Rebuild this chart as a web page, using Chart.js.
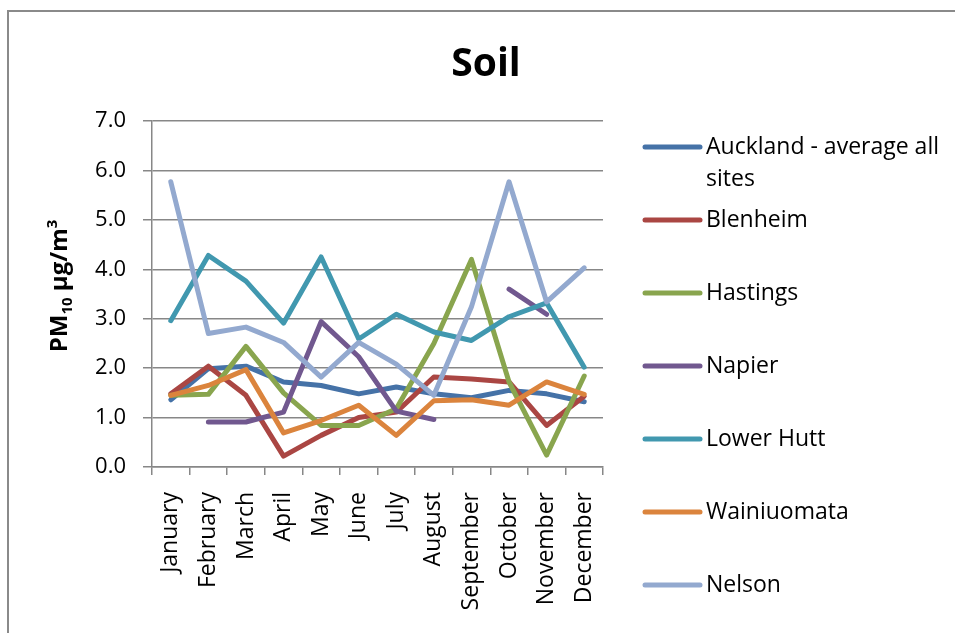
<!DOCTYPE html>
<html>
<head>
<meta charset="utf-8">
<title>Soil</title>
<script src="https://cdn.jsdelivr.net/npm/chart.js@4.4.1/dist/chart.umd.min.js"></script>
<style>
  html, body { margin: 0; padding: 0; background: #ffffff; }
  #wrap { width: 955px; height: 633px; position: relative; }
</style>
</head>
<body>
<div id="wrap"><canvas id="chart" width="955" height="633"></canvas></div>
<script>
// Monthly soil contribution to PM10 (µg/m³) by site
const months = ['January', 'February', 'March', 'April', 'May', 'June',
                'July', 'August', 'September', 'October', 'November', 'December'];

const auckland    = [1.36, 1.99, 2.04, 1.72, 1.65, 1.48, 1.62, 1.48, 1.40, 1.55, 1.48, 1.32];
const blenheim    = [1.48, 2.04, 1.45, 0.22, 0.64, 1.00, 1.11, 1.82, 1.78, 1.72, 0.84, 1.43];
const hastings    = [1.45, 1.47, 2.44, 1.50, 0.84, 0.84, 1.18, 2.50, 4.20, 1.72, 0.24, 1.84];
const napier      = [null, 0.91, 0.91, 1.11, 2.94, 2.23, 1.13, 0.96, null, 3.60, 3.09, null];
const lowerHutt   = [2.96, 4.28, 3.76, 2.91, 4.25, 2.59, 3.09, 2.73, 2.56, 3.04, 3.32, 2.02];
const wainiuomata = [1.45, 1.65, 1.97, 0.69, 0.94, 1.25, 0.64, 1.34, 1.36, 1.25, 1.72, 1.47];
const nelson      = [5.77, 2.70, 2.83, 2.52, 1.82, 2.52, 2.08, 1.45, 3.24, 5.77, 3.34, 4.03];

const seriesNames = ['Auckland - average all sites', 'Blenheim', 'Hastings', 'Napier',
                     'Lower Hutt', 'Wainiuomata', 'Nelson'];
const seriesValues = [auckland, blenheim, hastings, napier, lowerHutt, wainiuomata, nelson];
const seriesColors = ['#4572A7', '#AA4643', '#89A54E', '#71588F', '#4198AF', '#DB843D', '#93A9CF'];

const yMin = 0, yMax = 7, yStep = 1;

const FONT = "'Open Sans', 'Liberation Sans', sans-serif";
const AXIS_GREY = '#878787';

// Later series are painted on top of earlier ones
const datasets = seriesNames.map((name, i) => ({
  label: name,
  data: seriesValues[i],
  borderColor: seriesColors[i],
  backgroundColor: seriesColors[i],
  borderWidth: 5,
  borderJoinStyle: 'round',
  borderCapStyle: 'round',
  pointRadius: 0,
  pointHoverRadius: 0,
  tension: 0,
  spanGaps: false,
  order: seriesNames.length - i
}));

// Frame, title, axis title and legend
const decorations = {
  id: 'decorations',
  afterDraw(chart) {
    const ctx = chart.ctx;
    const area = chart.chartArea;
    ctx.save();

    // outer frame (left and top edges visible)
    ctx.strokeStyle = '#8a8a8a';
    ctx.lineWidth = 2;
    ctx.beginPath();
    ctx.moveTo(8, 633);
    ctx.lineTo(8, 11);
    ctx.lineTo(955, 11);
    ctx.stroke();

    // chart title
    ctx.fillStyle = '#000';
    ctx.font = `bold 39px ${FONT}`;
    ctx.textAlign = 'center';
    ctx.textBaseline = 'alphabetic';
    ctx.fillText('Soil', 486, 76);

    // y-axis title with subscript and superscript
    const big = `bold 24px ${FONT}`;
    const small = `bold 15px ${FONT}`;
    const parts = [
      { t: 'PM', f: big, dy: 0 },
      { t: '10', f: small, dy: 5 },
      { t: ' µg/m', f: big, dy: 0 },
      { t: '3', f: small, dy: -10 }
    ];
    let total = 0;
    parts.forEach(p => { ctx.font = p.f; p.w = ctx.measureText(p.t).width; total += p.w; });
    ctx.translate(67, (area.top + area.bottom) / 2 - 8);
    ctx.rotate(-Math.PI / 2);
    ctx.textAlign = 'left';
    let x = -total / 2;
    parts.forEach(p => {
      ctx.font = p.f;
      ctx.fillText(p.t, x, p.dy);
      x += p.w;
    });
    ctx.setTransform(1, 0, 0, 1, 0, 0);

    // legend
    const lx0 = 645, lx1 = 700, tx = 706, y0 = 147, gap = 73;
    ctx.font = `23px ${FONT}`;
    ctx.textBaseline = 'middle';
    ctx.textAlign = 'left';
    chart.data.datasets.forEach((ds, i) => {
      const y = y0 + gap * i;
      ctx.strokeStyle = ds.borderColor;
      ctx.lineWidth = 5;
      ctx.lineCap = 'round';
      ctx.beginPath();
      ctx.moveTo(lx0, y);
      ctx.lineTo(lx1, y);
      ctx.stroke();
      ctx.fillStyle = '#000';
      if (i === 0) {
        ctx.fillText('Auckland - average all', tx, y);
        ctx.fillText('sites', tx, y + 32);
      } else {
        ctx.fillText(ds.label, tx, y);
      }
    });
    ctx.restore();
  }
};

new Chart(document.getElementById('chart'), {
  type: 'line',
  data: { labels: months, datasets },
  plugins: [decorations],
  options: {
    responsive: false,
    animation: false,
    events: [],
    layout: { padding: { top: 121, right: 352, left: 0, bottom: 0 } },
    plugins: {
      legend: { display: false },
      title: { display: false },
      tooltip: { enabled: false }
    },
    scales: {
      x: {
        type: 'category',
        offset: true,
        grid: {
          offset: true,
          drawOnChartArea: false,
          drawTicks: true,
          tickLength: 8,
          color: AXIS_GREY,
          lineWidth: 1.5
        },
        border: { color: AXIS_GREY, width: 1.5 },
        ticks: {
          autoSkip: false,
          minRotation: 90,
          maxRotation: 90,
          padding: 17,
          color: '#000',
          font: { family: FONT, size: 23 }
        },
        afterFit(scale) { scale.height = 166; }
      },
      y: {
        min: yMin,
        max: yMax,
        grid: {
          color: AXIS_GREY,
          lineWidth: 1.5,
          tickLength: 9
        },
        border: { color: AXIS_GREY, width: 1.5 },
        ticks: {
          stepSize: yStep,
          padding: 17,
          color: '#000',
          font: { family: FONT, size: 22 },
          callback: v => Number(v).toFixed(1)
        },
        afterFit(scale) { scale.width = 152; }
      }
    }
  }
});
</script>
</body>
</html>
